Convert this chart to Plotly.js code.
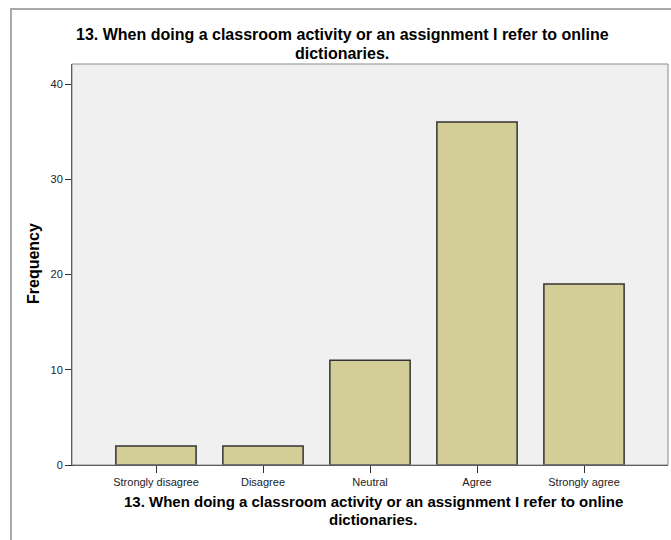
<!DOCTYPE html>
<html>
<head>
<meta charset="utf-8">
<script src="https://cdn.plot.ly/plotly-3.0.1.min.js"></script>
<style>
  body { margin: 0; background: #fff; }
  #frame { position: absolute; left: 10px; top: 8px; width: 670px; height: 540px;
           border-left: 2px solid #A9A9A9; border-top: 2px solid #A9A9A9; }
  #chart { position: absolute; left: 0; top: 0; width: 671px; height: 540px; }
</style>
</head>
<body>
<div id="frame"></div>
<div id="chart"></div>
<script>
// Values
var answers = ["Strongly disagree", "Disagree", "Neutral", "Agree", "Strongly agree"];
var counts = [2, 2, 11, 36, 19];
var yTicks = [0, 10, 20, 30, 40];

var questionLine1 = "13. When doing a classroom activity or an assignment I refer to online";
var questionLine2 = "dictionaries.";

var bar_trace = {
    x: answers,
    y: counts,
    type: 'bar',
    width: 0.75,
    marker: {
        color: '#D3CE97',
        line: { color: '#333333', width: 1.5 }
    },
    hoverinfo: 'x+y'
};

// title lines are drawn as annotations so the line spacing can be tight like SPSS
function label(text, x, y, size, extra) {
    var a = {
        text: '<b>' + text + '</b>',
        xref: 'paper', yref: 'paper',
        x: x, y: y,
        xanchor: 'center', yanchor: 'middle',
        showarrow: false,
        font: { size: size, color: '#000' }
    };
    for (var k in extra) a[k] = extra[k];
    return a;
}

// pixel -> paper helpers (plot area 72..668 x, 64..465 y)
function px(x) { return (x - 72) / 596; }
function py(y) { return (465 - y) / 401; }

var layout = {
    width: 671,
    height: 540,
    margin: { l: 72, r: 3, t: 64, b: 75 },
    paper_bgcolor: 'rgba(0,0,0,0)',
    plot_bgcolor: '#F0F0F0',
    font: { family: 'Liberation Sans, Arial, sans-serif', color: '#000' },
    showlegend: false,
    xaxis: {
        type: 'category',
        range: [-0.785, 4.785],
        showline: true,
        linecolor: '#333',
        linewidth: 1,
        ticks: 'outside',
        ticklen: 7,
        tickcolor: '#333',
        tickfont: { size: 11, color: '#222' },
        showgrid: false
    },
    yaxis: {
        range: [0, 42.1],
        tickvals: yTicks,
        showline: true,
        linecolor: '#333',
        linewidth: 1,
        ticks: 'outside',
        ticklen: 6,
        tickcolor: '#333',
        tickfont: { size: 11, color: '#222' },
        showgrid: false,
        zeroline: false
    },
    annotations: [
        label(questionLine1, px(342), py(35), 16),
        label(questionLine2, px(342), py(53), 16),
        label(questionLine1, px(373), py(501), 15),
        label(questionLine2, px(373), py(519), 15),
        label('Frequency', px(33), py(264), 16, { textangle: -90 })
    ],
    shapes: [{
        type: 'rect', xref: 'paper', yref: 'paper',
        x0: 0, x1: 1, y0: 0, y1: 1,
        line: { color: '#8A8A8A', width: 1 }
    }]
};

Plotly.newPlot('chart', [bar_trace], layout, { displayModeBar: false });
</script>
</body>
</html>
